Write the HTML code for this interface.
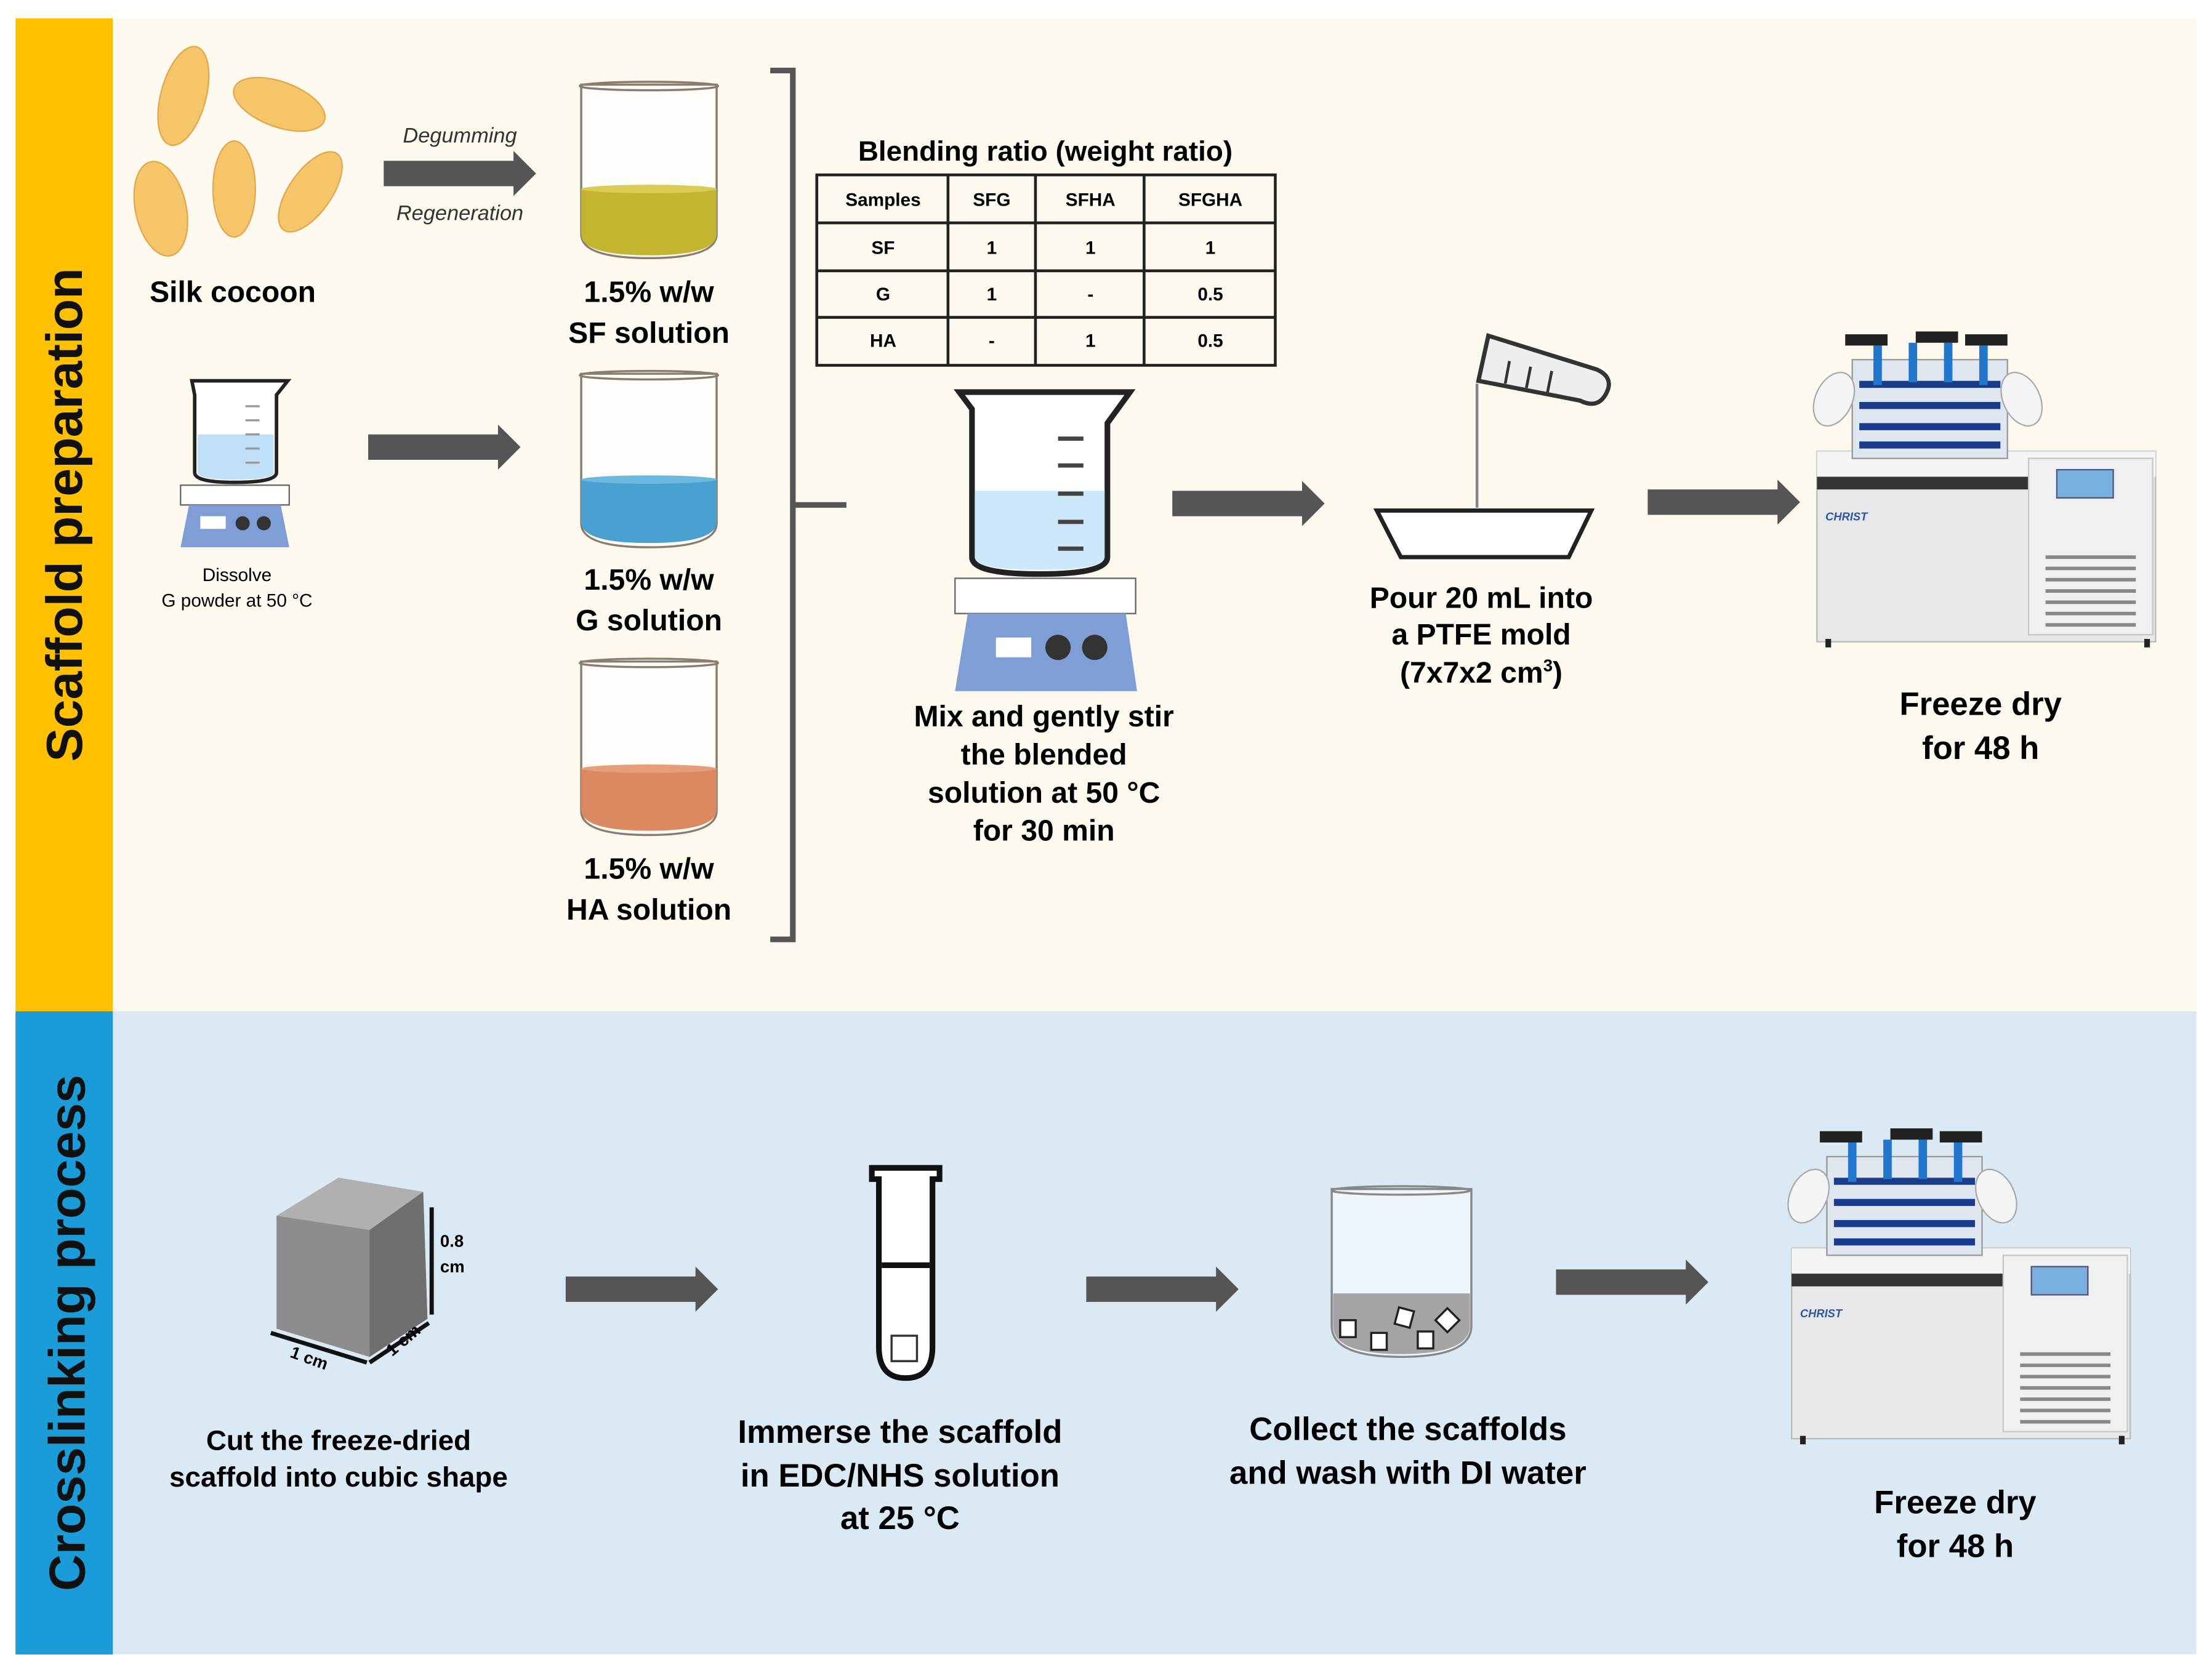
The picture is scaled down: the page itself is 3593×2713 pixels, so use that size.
<!DOCTYPE html>
<html><head><meta charset="utf-8"><style>
html,body{margin:0;padding:0;background:#fff;}
svg{display:block;}
text{font-family:"Liberation Sans",Arial,sans-serif;}
</style></head><body>
<svg width="3593" height="2713" viewBox="0 0 1568 1184" preserveAspectRatio="none" xmlns="http://www.w3.org/2000/svg">
<defs>
<g id="arrow"><polygon points="0,-9 92,-9 92,-16 108,0 92,16 92,9 0,9" fill="#555"/></g>
<g id="fd">
 <!-- freeze dryer, origin top-left of drawing box 240x220 -->
 <rect x="20" y="85" width="240" height="135" fill="#e6e8ea" stroke="#bbb"/>
 <rect x="20" y="85" width="240" height="18" fill="#f3f4f5"/>
 <rect x="20" y="103" width="150" height="9" fill="#333"/>
 <rect x="170" y="90" width="88" height="125" fill="#eef0f2" stroke="#c8c8c8"/>
 <rect x="190" y="98" width="40" height="20" fill="#7ab0e0" stroke="#557"/>
 <g stroke="#888" stroke-width="2.5">
  <line x1="182" y1="160" x2="246" y2="160"/><line x1="182" y1="168" x2="246" y2="168"/><line x1="182" y1="176" x2="246" y2="176"/><line x1="182" y1="184" x2="246" y2="184"/><line x1="182" y1="192" x2="246" y2="192"/><line x1="182" y1="200" x2="246" y2="200"/><line x1="182" y1="208" x2="246" y2="208"/>
 </g>
 <text x="26" y="134" font-size="8" fill="#3356a0" font-style="italic" font-weight="bold">CHRIST</text>
 <rect x="26" y="218" width="4" height="6" fill="#222"/><rect x="252" y="218" width="4" height="6" fill="#222"/>
 <!-- top chamber -->
 <rect x="45" y="20" width="110" height="70" fill="#dfe6ef" stroke="#999"/>
 <g fill="#1a3c8c"><rect x="50" y="35" width="100" height="5"/><rect x="50" y="50" width="100" height="5"/><rect x="50" y="65" width="100" height="5"/><rect x="50" y="78" width="100" height="5"/></g>
 <g fill="#2277cc"><rect x="60" y="10" width="6" height="28"/><rect x="85" y="8" width="6" height="28"/><rect x="110" y="8" width="6" height="28"/><rect x="135" y="10" width="6" height="28"/></g>
 <g fill="#222"><rect x="40" y="2" width="30" height="8"/><rect x="90" y="0" width="30" height="8"/><rect x="125" y="2" width="30" height="8"/></g>
 <ellipse cx="32" cy="48" rx="13" ry="20" fill="#f2f4f6" stroke="#aaa" transform="rotate(25 32 48)"/>
 <ellipse cx="165" cy="48" rx="13" ry="20" fill="#f2f4f6" stroke="#aaa" transform="rotate(-25 165 48)"/>
</g>
<g id="beaker">
 <!-- 100 wide x 125 tall -->
 <path d="M2,2 L98,2 L98,108 Q98,125 50,125 Q2,125 2,108 Z" fill="#fff" fill-opacity="0.6" stroke="#8a7d70" stroke-width="1.5"/>
 <ellipse cx="50" cy="3" rx="49" ry="3" fill="none" stroke="#8a7d70" stroke-width="1.5"/>
</g>
</defs>

<!-- backgrounds -->
<rect width="1568" height="1184" fill="#fff"/>
<rect x="80" y="13" width="1477" height="704" fill="#fdf9ef"/>
<rect x="11" y="13" width="69" height="704" fill="#ffc000"/>
<rect x="80" y="717" width="1477" height="456" fill="#dbe9f5"/>
<rect x="11" y="717" width="69" height="456" fill="#1b9bd7"/>
<text transform="translate(58 365) rotate(-90)" font-size="36" font-weight="bold" text-anchor="middle" fill="#111">Scaffold preparation</text>
<text transform="translate(60 945) rotate(-90)" font-size="36" font-weight="bold" text-anchor="middle" fill="#111">Crosslinking process</text>

<!-- cocoons -->
<g fill="#f4c56a" stroke="#e3a84a" stroke-width="1">
 <ellipse cx="130" cy="68" rx="16" ry="36" transform="rotate(15 130 68)"/>
 <ellipse cx="198" cy="74" rx="34" ry="16" transform="rotate(20 198 74)"/>
 <ellipse cx="114" cy="148" rx="18" ry="34" transform="rotate(-12 114 148)"/>
 <ellipse cx="166" cy="134" rx="15" ry="34"/>
 <ellipse cx="220" cy="136" rx="15" ry="33" transform="rotate(35 220 136)"/>
</g>
<text x="165" y="214" font-size="21" font-weight="bold" text-anchor="middle">Silk cocoon</text>
<text x="326" y="101" font-size="15" font-style="italic" text-anchor="middle" fill="#333">Degumming</text>
<text x="326" y="156" font-size="15" font-style="italic" text-anchor="middle" fill="#333">Regeneration</text>
<use href="#arrow" x="272" y="123"/>

<!-- small beaker + stirrer -->
<path d="M136,270 L204,270 L196,280 L196,335 Q196,342 166,342 Q138,342 138,335 L138,280 Z" fill="#fff" stroke="#222" stroke-width="2.5"/>
<path d="M140,308 L194,308 L194,335 Q194,340 166,340 Q140,340 140,335 Z" fill="#bfe0f6"/>
<g stroke="#999" stroke-width="1.5"><line x1="174" y1="288" x2="184" y2="288"/><line x1="174" y1="298" x2="184" y2="298"/><line x1="174" y1="308" x2="184" y2="308"/><line x1="174" y1="318" x2="184" y2="318"/><line x1="174" y1="328" x2="184" y2="328"/></g>
<rect x="128" y="344" width="77" height="14" fill="#fff" stroke="#666"/>
<path d="M134,358 L199,358 L205,388 L128,388 Z" fill="#7f9ed6"/>
<rect x="142" y="366" width="18" height="9" fill="#fff"/><circle cx="172" cy="371" r="5" fill="#333"/><circle cx="187" cy="371" r="5" fill="#333"/>
<text x="168" y="412" font-size="13" text-anchor="middle">Dissolve</text>
<text x="168" y="430" font-size="13" text-anchor="middle">G powder at 50 °C</text>
<use href="#arrow" x="261" y="317"/>

<!-- three beakers -->
<use href="#beaker" x="410" y="58"/>
<path d="M412,134 L508,134 L508,166 Q508,181 460,181 Q412,181 412,166 Z" fill="#c3b530"/>
<ellipse cx="460" cy="134" rx="48" ry="3" fill="#d8cc55"/>
<text x="460" y="214" font-size="21" font-weight="bold" text-anchor="middle">1.5% w/w</text>
<text x="460" y="243" font-size="21" font-weight="bold" text-anchor="middle">SF solution</text>

<use href="#beaker" x="410" y="263"/>
<path d="M412,340 L508,340 L508,370 Q508,385 460,385 Q412,385 412,370 Z" fill="#4aa0cf"/>
<ellipse cx="460" cy="340" rx="48" ry="3" fill="#6cb8de"/>
<text x="460" y="418" font-size="21" font-weight="bold" text-anchor="middle">1.5% w/w</text>
<text x="460" y="447" font-size="21" font-weight="bold" text-anchor="middle">G solution</text>

<use href="#beaker" x="410" y="467"/>
<path d="M412,545 L508,545 L508,574 Q508,589 460,589 Q412,589 412,574 Z" fill="#dc8861"/>
<ellipse cx="460" cy="545" rx="48" ry="3" fill="#e59d7a"/>
<text x="460" y="623" font-size="21" font-weight="bold" text-anchor="middle">1.5% w/w</text>
<text x="460" y="652" font-size="21" font-weight="bold" text-anchor="middle">HA solution</text>

<!-- bracket -->
<path d="M546,50 L562,50 L562,666 L546,666 M562,358 L600,358" fill="none" stroke="#555" stroke-width="4"/>

<!-- table -->
<text x="741" y="114" font-size="20" font-weight="bold" text-anchor="middle">Blending ratio (weight ratio)</text>
<g fill="none" stroke="#222" stroke-width="2">
 <rect x="579" y="124" width="325" height="135"/>
 <line x1="579" y1="158" x2="904" y2="158"/><line x1="579" y1="192" x2="904" y2="192"/><line x1="579" y1="225" x2="904" y2="225"/>
 <line x1="672" y1="124" x2="672" y2="259"/><line x1="734" y1="124" x2="734" y2="259"/><line x1="811" y1="124" x2="811" y2="259"/>
</g>
<g font-size="13" font-weight="bold" text-anchor="middle">
 <text x="626" y="146">Samples</text><text x="703" y="146">SFG</text><text x="773" y="146">SFHA</text><text x="858" y="146">SFGHA</text>
 <text x="626" y="180">SF</text><text x="703" y="180">1</text><text x="773" y="180">1</text><text x="858" y="180">1</text>
 <text x="626" y="213">G</text><text x="703" y="213">1</text><text x="773" y="213">-</text><text x="858" y="213">0.5</text>
 <text x="626" y="246">HA</text><text x="703" y="246">-</text><text x="773" y="246">1</text><text x="858" y="246">0.5</text>
</g>

<!-- big beaker + stirrer -->
<path d="M680,278 L801,278 L785,300 L785,395 Q785,407 737,407 Q689,407 689,395 L689,290 Z" fill="#fff" stroke="#222" stroke-width="4"/>
<path d="M691,348 L783,348 L783,395 Q783,404 737,404 Q691,404 691,395 Z" fill="#cce8fa"/>
<g stroke="#444" stroke-width="3"><line x1="750" y1="311" x2="768" y2="311"/><line x1="750" y1="330" x2="768" y2="330"/><line x1="750" y1="350" x2="768" y2="350"/><line x1="750" y1="370" x2="768" y2="370"/><line x1="750" y1="389" x2="768" y2="389"/></g>
<rect x="677" y="410" width="128" height="25" fill="#fff" stroke="#666"/>
<path d="M686,435 L798,435 L806,490 L677,490 Z" fill="#7f9ed6"/>
<rect x="706" y="452" width="25" height="14" fill="#fff"/><circle cx="750" cy="459" r="9" fill="#333"/><circle cx="776" cy="459" r="9" fill="#333"/>
<g font-size="21" font-weight="bold" text-anchor="middle">
 <text x="740" y="515">Mix and gently stir</text><text x="740" y="542">the blended</text><text x="740" y="569">solution at 50 °C</text><text x="740" y="596">for 30 min</text>
</g>
<use href="#arrow" x="831" y="357"/>

<!-- pour -->
<path d="M1055,238 L1132,262 Q1145,268 1138,280 Q1132,290 1120,284 L1048,270 Z" fill="#eee" stroke="#333" stroke-width="3"/>
<g stroke="#333" stroke-width="2"><line x1="1070" y1="256" x2="1067" y2="272"/><line x1="1085" y1="260" x2="1082" y2="275"/><line x1="1100" y1="263" x2="1097" y2="278"/></g>
<line x1="1047" y1="272" x2="1047" y2="360" stroke="#888" stroke-width="2"/>
<path d="M976,362 L1128,362 L1112,395 L993,395 Z" fill="#fff" stroke="#222" stroke-width="3"/>
<g font-size="21" font-weight="bold" text-anchor="middle">
 <text x="1050" y="431">Pour 20 mL into</text><text x="1050" y="457">a PTFE mold</text><text x="1050" y="484">(7x7x2 cm<tspan font-size="12" dy="-8">3</tspan><tspan dy="8">)</tspan></text>
</g>
<use href="#arrow" x="1168" y="356"/>

<use href="#fd" x="1268" y="235"/>
<g font-size="23" font-weight="bold" text-anchor="middle"><text x="1404" y="507">Freeze dry</text><text x="1404" y="538">for 48 h</text></g>

<!-- bottom row -->
<path d="M196,862 L240,835 L300,845 L303,935 L262,962 L196,942 Z" fill="#8d8d8d"/>
<path d="M196,862 L240,835 L300,845 L262,872 Z" fill="#b0b0b0"/>
<path d="M262,872 L300,845 L303,935 L262,962 Z" fill="#6f6f6f"/>
<line x1="306" y1="856" x2="306" y2="932" stroke="#111" stroke-width="3"/>
<line x1="192" y1="945" x2="260" y2="966" stroke="#111" stroke-width="3"/>
<line x1="262" y1="966" x2="304" y2="938" stroke="#111" stroke-width="3"/>
<text x="312" y="884" font-size="12" font-weight="bold">0.8</text><text x="312" y="902" font-size="12" font-weight="bold">cm</text>
<text x="205" y="962" font-size="12" font-weight="bold" transform="rotate(20 205 962)">1 cm</text>
<text x="278" y="962" font-size="12" font-weight="bold" transform="rotate(-40 278 962)">1 cm</text>
<g font-size="20" font-weight="bold" text-anchor="middle"><text x="240" y="1028">Cut the freeze-dried</text><text x="240" y="1054">scaffold into cubic shape</text></g>
<use href="#arrow" x="401" y="914"/>

<path d="M618,828 L666,828 L666,836 L661,836 L661,955 Q661,977 642,977 Q623,977 623,955 L623,836 L618,836 Z" fill="#fff" stroke="#111" stroke-width="4"/>
<line x1="625" y1="897" x2="659" y2="897" stroke="#111" stroke-width="4"/>
<rect x="632" y="947" width="18" height="18" fill="#fff" stroke="#333" stroke-width="1.5"/>
<g font-size="23" font-weight="bold" text-anchor="middle"><text x="638" y="1023">Immerse the scaffold</text><text x="638" y="1054">in EDC/NHS solution</text><text x="638" y="1084">at 25 °C</text></g>
<use href="#arrow" x="770" y="914"/>

<path d="M944,843 L1043,843 L1043,940 Q1043,962 993,962 Q944,962 944,940 Z" fill="#fff" fill-opacity="0.5" stroke="#888" stroke-width="1.5"/>
<ellipse cx="993" cy="844" rx="49" ry="3" fill="none" stroke="#888" stroke-width="1.5"/>
<path d="M945,917 L1042,917 L1042,940 Q1042,960 993,960 Q945,960 945,940 Z" fill="#a4a4a4"/>
<g fill="#fff" stroke="#222" stroke-width="1.5"><rect x="950" y="936" width="11" height="12"/><rect x="972" y="945" width="11" height="12"/><rect x="990" y="928" width="11" height="12" transform="rotate(15 995 934)"/><rect x="1005" y="944" width="11" height="12"/><rect x="1020" y="930" width="12" height="12" transform="rotate(45 1026 936)"/></g>
<g font-size="23" font-weight="bold" text-anchor="middle"><text x="998" y="1021">Collect the scaffolds</text><text x="998" y="1052">and wash with DI water</text></g>
<use href="#arrow" x="1103" y="909"/>

<use href="#fd" x="1250" y="800"/>
<g font-size="23" font-weight="bold" text-anchor="middle"><text x="1386" y="1073">Freeze dry</text><text x="1386" y="1104">for 48 h</text></g>
</svg>
</body></html>
